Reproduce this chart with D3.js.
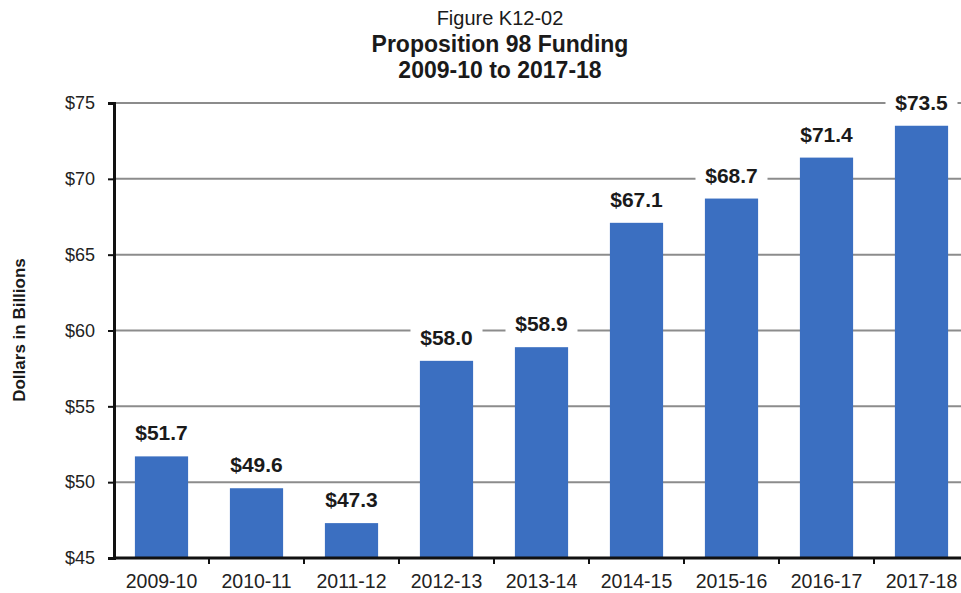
<!DOCTYPE html>
<html lang="en">
<head>
    <meta charset="UTF-8">
    <title>Proposition 98 Funding</title>
    <script src="https://d3js.org/d3.v7.min.js"></script>
    <style>
        body { margin: 0; background: #fff; }
        svg { display: block; font-family: "Liberation Sans", Arial, sans-serif; }
    </style>
</head>
<body>
    <svg width="961" height="593"></svg>
    <script>
        // data
        const years = ["2009-10", "2010-11", "2011-12", "2012-13", "2013-14",
            "2014-15", "2015-16", "2016-17", "2017-18"];
        const funding = [51.7, 49.6, 47.3, 58.0, 58.9, 67.1, 68.7, 71.4, 73.5];
        const yTicks = [45, 50, 55, 60, 65, 70, 75];

        let svg = d3.select("svg");

        // plot area (right side runs off the picture like the original)
        const plotLeft = 114, plotRight = 969, plotTop = 103, plotBottom = 558;

        let x = d3.scaleBand().domain(years).range([plotLeft, plotRight]).paddingInner(0.44).paddingOuter(0.22);
        let y = d3.scaleLinear().domain([45, 75]).range([plotBottom, plotTop]);

        // titles
        svg.append("text").attr("x", 500).attr("y", 25).attr("text-anchor", "middle")
            .attr("font-size", 20).attr("fill", "#1a1a1a").text("Figure K12-02");
        svg.append("text").attr("x", 500).attr("y", 52).attr("text-anchor", "middle")
            .attr("font-size", 23).attr("font-weight", "bold").attr("fill", "#1a1a1a")
            .text("Proposition 98 Funding");
        svg.append("text").attr("x", 500).attr("y", 78).attr("text-anchor", "middle")
            .attr("font-size", 23).attr("font-weight", "bold").attr("fill", "#1a1a1a")
            .text("2009-10 to 2017-18");

        // gridlines
        svg.append("g")
            .selectAll("line")
            .data(yTicks.filter(d => d > 45))
            .enter()
            .append("line")
            .attr("x1", plotLeft).attr("x2", 961)
            .attr("y1", d => y(d)).attr("y2", d => y(d))
            .attr("stroke", "#8c8c8c").attr("stroke-width", 2);

        // bars
        svg.append("g")
            .selectAll("rect")
            .data(funding)
            .enter()
            .append("rect")
            .attr("x", (d, i) => x(years[i]))
            .attr("width", x.bandwidth())
            .attr("y", d => y(d))
            .attr("height", d => plotBottom - y(d))
            .attr("fill", "#3b6fc1");

        // value labels with white boxes over the gridlines
        let labels = svg.append("g")
            .selectAll("g")
            .data(funding)
            .enter()
            .append("g")
            .attr("transform", (d, i) => `translate(${x(years[i]) + x.bandwidth() / 2},${y(d) - 16})`);
        labels.append("rect")
            .attr("x", -36).attr("y", -19).attr("width", 72).attr("height", 24)
            .attr("fill", "#fff");
        labels.append("text")
            .attr("text-anchor", "middle")
            .attr("font-size", 21).attr("font-weight", "bold").attr("fill", "#1a1a1a")
            .text(d => "$" + d.toFixed(1));

        // y axis
        let yAxis = d3.axisLeft(y).tickValues(yTicks).tickSize(6).tickPadding(13)
            .tickFormat(d => "$" + d);
        let gy = svg.append("g").attr("transform", `translate(${plotLeft},0)`).call(yAxis);
        gy.attr("font-size", 18).attr("font-family", "Liberation Sans, Arial, sans-serif");
        gy.select(".domain").attr("stroke", "#111").attr("stroke-width", 3);
        gy.selectAll(".tick line").attr("stroke", "#111").attr("stroke-width", 2);
        gy.selectAll(".tick text").attr("fill", "#222");

        // x axis with ticks between the bars
        svg.append("line").attr("x1", plotLeft).attr("x2", 961)
            .attr("y1", plotBottom).attr("y2", plotBottom)
            .attr("stroke", "#111").attr("stroke-width", 3);
        svg.append("g")
            .selectAll("line")
            .data(years.slice(1))
            .enter()
            .append("line")
            .attr("x1", d => x(d) - x.step() * x.paddingInner() / 2)
            .attr("x2", d => x(d) - x.step() * x.paddingInner() / 2)
            .attr("y1", plotBottom).attr("y2", plotBottom + 6)
            .attr("stroke", "#111").attr("stroke-width", 2);
        svg.append("g")
            .selectAll("text")
            .data(years)
            .enter()
            .append("text")
            .attr("x", d => x(d) + x.bandwidth() / 2)
            .attr("y", 588)
            .attr("text-anchor", "middle")
            .attr("font-size", 19.5).attr("fill", "#222")
            .text(d => d);

        // y axis title
        svg.append("text")
            .attr("transform", "translate(25,330) rotate(-90)")
            .attr("text-anchor", "middle")
            .attr("font-size", 17).attr("font-weight", "bold").attr("fill", "#1a1a1a")
            .text("Dollars in Billions");
    </script>
</body>
</html>
